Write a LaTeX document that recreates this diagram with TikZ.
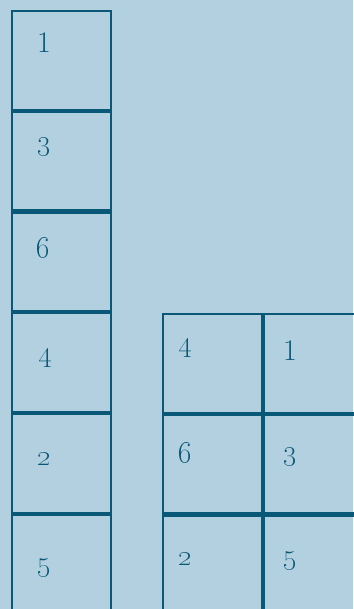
\documentclass[tikz,border=0pt]{standalone}
\usetikzlibrary{positioning}

\definecolor{paper}{RGB}{178,208,223}
\definecolor{ink}{RGB}{10,88,120}

\begin{document}
\begin{tikzpicture}[
    x=1pt, y=-1pt,
    cell/.style={draw=ink, line width=2.4pt, rectangle, outer sep=0pt, inner sep=0pt,
                 minimum width=98.9pt, minimum height=98.9pt},
    num/.style={text=ink, anchor=base, inner sep=0pt, scale=1.2,
                font=\fontsize{24.88}{26}\selectfont},
    node distance=1.8pt
  ]
    \fill[paper] (0,0) rectangle (353,609);
    \useasboundingbox (0,0) rectangle (353,609);

    % single column
    \node[cell, anchor=north west] (a1) at (12,11) {};
    \node[cell, below=of a1] (a2) {};
    \node[cell, below=of a2] (a3) {};
    \node[cell, below=of a3] (a4) {};
    \node[cell, below=of a4] (a5) {};
    \node[cell, below=of a5] (a6) {};

    % two columns
    \node[cell, anchor=north west] (b1) at (163,314) {};
    \node[cell, right=of b1] (c1) {};
    \node[cell, below=of b1] (b2) {};
    \node[cell, right=of b2] (c2) {};
    \node[cell, below=of b2] (b3) {};
    \node[cell, right=of b3] (c3) {};

    \node[num] (na1) at (44,53) {1};
    \node[num] (na2) at (44,151) {\oldstylenums{3}};
    \node[num] (na3) at (43,258) {\oldstylenums{6}};
    \node[num] (na4) at (45,361) {\oldstylenums{4}};
    \node[num] (na5) at (44,465) {\oldstylenums{2}};
    \node[num] (na6) at (44,571) {\oldstylenums{5}};

    \node[num] (nb1) at (185,351) {\oldstylenums{4}};
    \node[num] (nc1) at (290,360) {1};
    \node[num] (nb2) at (185,462) {\oldstylenums{6}};
    \node[num] (nc2) at (290,460) {\oldstylenums{3}};
    \node[num] (nb3) at (185,565) {\oldstylenums{2}};
    \node[num] (nc3) at (290,564) {\oldstylenums{5}};
  \end{tikzpicture}
\end{document}
